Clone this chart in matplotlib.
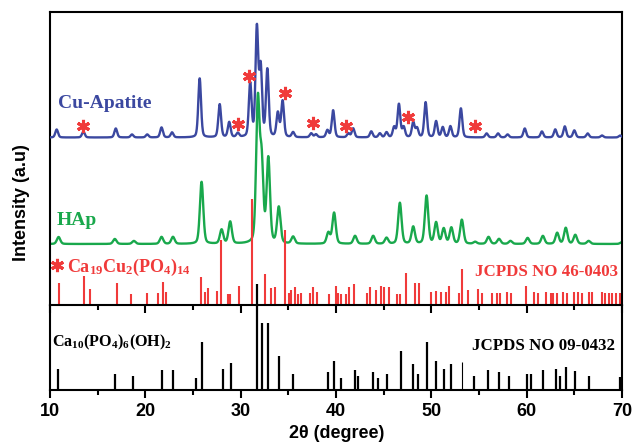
import numpy as np
import matplotlib
matplotlib.use('Agg')
import matplotlib.pyplot as plt
from matplotlib.ticker import MultipleLocator

# ---------------- data ----------------
# Cu-Apatite measured pattern: peak positions (2theta) and heights (a.u.)
cu_pos = [10.7, 13.5, 16.9, 18.6, 20.2, 21.7, 22.8, 25.7, 27.8, 28.8,
          29.7, 31.0, 31.7, 32.1, 32.8, 33.9, 34.4, 35.5, 37.4, 37.9,
          39.1, 39.7, 41.3, 41.8, 43.7, 44.6, 45.3, 46.1, 46.6, 47.1,
          48.1, 48.5, 49.4, 50.5, 51.2, 52.0, 53.1, 55.8, 57.0, 58.0,
          59.8, 61.6, 63.0, 64.0, 65.0, 66.4, 67.9, 69.8]
cu_int = [8, 6, 9, 3, 3, 10, 5, 59, 33, 15,
          4, 53, 108, 68, 67, 24, 36, 5, 4, 3,
          7, 27, 4, 9, 6, 4, 5, 10, 33, 10,
          15, 9, 35, 16, 10, 11, 29, 4, 4, 3,
          9, 6, 8, 11, 7, 4, 2, 2]
cu_offset = 167.5

# HAp measured pattern
hap_pos = [10.9, 16.8, 18.8, 21.7, 22.9, 25.9, 28.0, 28.9, 31.8, 32.2,
           32.9, 34.0, 35.5, 39.2, 39.8, 42.0, 43.9, 45.3, 46.7, 48.1,
           49.5, 50.5, 51.3, 52.1, 53.2, 54.6, 56.0, 57.1, 58.3, 60.1,
           61.7, 63.2, 64.1, 65.1, 66.5, 70.0]
hap_int = [7, 5, 3, 7, 7, 62, 14, 22, 140, 78,
           84, 36, 7, 11, 31, 8, 8, 6, 41, 17,
           48, 21, 15, 16, 24, 2, 7, 5, 3, 6,
           8, 11, 16, 9, 3, 2]
hap_offset = 61

# JCPDS 46-0403 reference sticks (Ca19Cu2(PO4)14)
red_pos = [10.9, 13.6, 14.2, 17.0, 18.5, 20.2, 21.3, 21.9, 22.2, 25.8,
           26.3, 26.6, 27.5, 27.9, 28.7, 28.9, 29.8, 31.2, 32.6, 33.2,
           33.6, 34.6, 35.1, 35.3, 35.7, 36.0, 36.3, 37.3, 37.6, 38.0,
           39.3, 40.0, 40.2, 40.5, 41.0, 41.4, 41.9, 43.2, 43.6, 44.2,
           44.7, 45.0, 45.6, 46.4, 46.7, 47.3, 48.3, 48.7, 50.0, 50.5,
           51.0, 51.5, 51.9, 52.9, 53.2, 53.8, 54.9, 55.3, 56.4, 56.9,
           57.2, 57.9, 58.4, 59.9, 60.8, 61.2, 62.0, 62.5, 62.8, 63.2,
           63.8, 64.2, 65.0, 65.4, 65.8, 66.5, 66.9, 67.9, 68.2, 68.6,
           69.0, 69.4, 69.8]
red_int = [22, 29, 16, 22, 11, 12, 12, 23, 13, 28,
           13, 17, 14, 65, 11, 11, 19, 106, 31, 17,
           18, 75, 12, 15, 18, 11, 12, 12, 18, 13,
           11, 19, 12, 11, 11, 18, 21, 12, 18, 15,
           19, 18, 18, 11, 11, 32, 22, 22, 13, 14,
           13, 13, 19, 12, 36, 15, 16, 12, 12, 12,
           12, 13, 12, 19, 13, 12, 13, 12, 12, 12,
           13, 12, 13, 13, 12, 13, 13, 13, 12, 12,
           12, 12, 12]

# JCPDS 09-0432 reference sticks (HAp)
blk_pos = [10.8, 16.8, 18.7, 21.8, 22.9, 25.3, 25.9, 28.1, 29.0, 31.7,
           32.2, 32.9, 34.0, 35.5, 39.2, 39.8, 40.5, 42.0, 42.3, 43.9,
           44.4, 45.3, 46.8, 48.1, 48.6, 49.5, 50.5, 51.3, 52.1, 53.2,
           54.5, 55.9, 57.1, 58.1, 60.0, 60.5, 61.7, 63.1, 63.5, 64.1,
           65.1, 66.5, 69.8]
blk_int = [21, 16, 14, 20, 20, 12, 48, 21, 27, 106,
           67, 67, 34, 16, 18, 29, 12, 20, 14, 18,
           12, 16, 39, 26, 16, 48, 29, 21, 26, 28,
           14, 20, 18, 14, 16, 16, 20, 21, 14, 23,
           19, 14, 13]

# asterisk marks (Ca19Cu2(PO4)14 phase) on the Cu-Apatite pattern
ast_x = [13.5, 29.7, 30.9, 34.6, 37.6, 41.0, 47.5, 54.6]
ast_y = [179, 181, 229, 212, 182, 179, 188, 179]

xticks = [10, 20, 30, 40, 50, 60, 70]

# ---------------- styling ----------------
BLUE = '#3b48a0'
GREEN = '#19a84c'
RED = '#f03a3a'
plt.rcParams['mathtext.fontset'] = 'custom'
plt.rcParams['mathtext.rm'] = 'Liberation Serif:bold'
plt.rcParams['mathtext.it'] = 'Liberation Serif:bold'
plt.rcParams['mathtext.bf'] = 'Liberation Serif:bold'

W, H = 633, 445
fig = plt.figure(figsize=(W / 100, H / 100), dpi=100)

left = 50 / W
width = 572 / W
ax_top = fig.add_axes([left, 1 - 305 / H, width, 293 / H])
ax_bot = fig.add_axes([left, 1 - 389.5 / H, width, 84.5 / H])


def profile(x, pos, ints, fwhm, eta=0.3):
    y = np.zeros_like(x)
    s = fwhm / 2.3548
    g = fwhm / 2
    for p, h in zip(pos, ints):
        gau = np.exp(-0.5 * ((x - p) / s) ** 2)
        lor = 1 / (1 + ((x - p) / g) ** 2)
        y += h * ((1 - eta) * gau + eta * lor)
    return y


x = np.linspace(10, 70, 4000)
hap_y = hap_offset + profile(x, hap_pos, hap_int, 0.42)
cu_y = cu_offset + profile(x, cu_pos, cu_int, 0.34)

ax_top.plot(x, hap_y, color=GREEN, lw=1.7, zorder=2)
ax_top.plot(x, cu_y, color=BLUE, lw=1.7, zorder=3)
ax_top.vlines(red_pos, 0, red_int, color=RED, lw=1.5, zorder=2)
ax_top.plot(ast_x, ast_y, ls='none', marker=(6, 2, 0), ms=9.5, mew=2.2,
            color=RED, zorder=4)

ax_top.set_xlim(10, 70)
ax_top.set_ylim(0, 293)
ax_bot.set_xlim(10, 70)
ax_bot.set_ylim(0, 84.5)

blk_lw = [0.8 if p == 53.2 else 1.6 for p in blk_pos]
ax_bot.vlines(blk_pos, 0, blk_int, color='black', lw=blk_lw, clip_on=False,
              zorder=5)

for ax in (ax_top, ax_bot):
    ax.xaxis.set_major_locator(MultipleLocator(10))
    ax.xaxis.set_minor_locator(MultipleLocator(5))
    ax.set_yticks([])
    ax.tick_params(axis='x', which='major', direction='out', length=6,
                   width=1.5, pad=4)
    ax.tick_params(axis='x', which='minor', direction='out', length=3.5,
                   width=1.5)
    for sp in ax.spines.values():
        sp.set_linewidth(1.5)
    ax.set_facecolor('none')

ax_top.tick_params(axis='x', which='both', labelbottom=False)
ax_bot.spines['top'].set_visible(False)
ax_bot.set_xticks(xticks)
ax_bot.set_xticklabels([str(t) for t in xticks], fontfamily='Liberation Sans',
                       fontweight='bold', fontsize=13)

serif = 'Liberation Serif'
ax_top.text(10.84, 197.3, 'Cu-Apatite', color=BLUE, fontfamily=serif,
            fontweight='bold', fontsize=14, ha='left', va='baseline')
ax_top.text(10.73, 80, 'HAp', color=GREEN, fontfamily=serif,
            fontweight='bold', fontsize=14, ha='left', va='baseline')
ax_top.plot([10.7], [40], ls='none', marker=(6, 2, 0), ms=9.5, mew=2.2,
            color=RED)
ax_top.text(11.8, 33.3, r'$\mathrm{Ca_{19}Cu_{2}(PO_{4})_{14}}$', color=RED,
            fontsize=13, ha='left', va='baseline')
ax_top.text(69.6, 29, 'JCPDS NO 46-0403', color=RED, fontfamily=serif,
            fontweight='bold', fontsize=12.2, ha='right', va='baseline')
ax_bot.text(10.2, 42.8, r'$\mathrm{Ca_{10}(PO_{4})_{6}(OH)_{2}}$',
            color='black', fontsize=11.6, ha='left', va='baseline')
ax_bot.text(69.3, 39.5, 'JCPDS NO 09-0432', color='black', fontfamily=serif,
            fontweight='bold', fontsize=12.2, ha='right', va='baseline')

fig.text(22 / W, 1 - 203 / H, 'Intensity (a.u)', rotation=90,
         fontfamily='Liberation Sans', fontweight='bold', fontsize=13,
         ha='center', va='center')
fig.text(337 / W, 1 - 433 / H, '2\u03b8 (degree)',
         fontfamily='Liberation Sans', fontweight='bold', fontsize=13,
         ha='center', va='center')

fig.savefig('out.png', dpi=100)
